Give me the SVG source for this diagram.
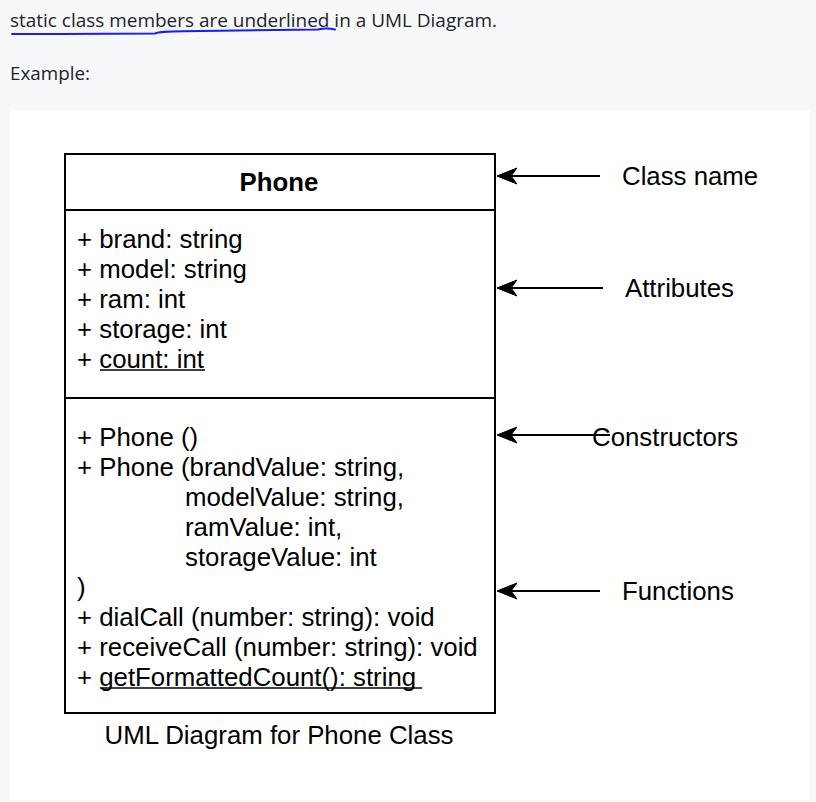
<svg xmlns="http://www.w3.org/2000/svg" width="816" height="802" viewBox="0 0 816 802">
<defs>
<style>
.page{font-family:"Open Sans","Lato","Noto Sans",sans-serif;font-size:18px;fill:#1f2329}
.t{font-family:"Liberation Sans",Arial,sans-serif;font-size:25.8px;fill:#000}
.b{font-weight:bold;text-anchor:middle}
.box{fill:#fff;stroke:#000;stroke-width:2}
.sep{stroke:#000;stroke-width:2}
.arr{stroke:#000;stroke-width:2;fill:none;marker-end:url(#ah)}
.ul{stroke:#000;stroke-width:1.5}
</style>
<marker id="ah" markerWidth="20" markerHeight="18" viewBox="0 0 20 18" refX="19" refY="9" orient="auto" markerUnits="userSpaceOnUse">
<path d="M20,9 L0,1 L6,9 L0,17 Z" fill="#000" stroke="#000" stroke-width="1" stroke-linejoin="round"/>
</marker>
</defs>
<rect x="0" y="0" width="816" height="802" fill="#f7f8fa"/>
<g id="intro">
<text class="page" x="10" y="27" textLength="487" lengthAdjust="spacingAndGlyphs">static class members are underlined in a UML Diagram.</text>
<path d="M12,34 C60,34 120,34 155,33.5 C160,31 170,31.5 200,31 C250,30.5 300,30 318,29.5 C325,28 330,28.5 335,29.5" stroke="#1a1aff" stroke-width="2" fill="none" stroke-linecap="round"/>
<text class="page" x="10" y="80" textLength="80" lengthAdjust="spacingAndGlyphs">Example:</text>
</g>
<rect x="10" y="110" width="800" height="690" fill="#fff"/>
<g id="phone-class">
<rect class="box" x="65" y="154" width="430" height="559"/>
<line class="sep" x1="65" y1="210" x2="495" y2="210"/>
<line class="sep" x1="65" y1="398" x2="495" y2="398"/>
<text class="t b" x="279" y="191">Phone</text>
<text class="t" x="77" y="248">+ brand: string</text>
<text class="t" x="77" y="278">+ model: string</text>
<text class="t" x="77" y="308">+ ram: int</text>
<text class="t" x="77" y="338">+ storage: int</text>
<text class="t" x="77" y="368">+ count: int</text>
<line class="ul" x1="100" y1="370" x2="205" y2="370"/>
<text class="t" x="77" y="446">+ Phone ()</text>
<text class="t" x="77" y="476">+ Phone (brandValue: string,</text>
<text class="t" x="185" y="506">modelValue: string,</text>
<text class="t" x="185" y="536">ramValue: int,</text>
<text class="t" x="185" y="566">storageValue: int</text>
<text class="t" x="77" y="596">)</text>
<text class="t" x="77" y="626">+ dialCall (number: string): void</text>
<text class="t" x="77" y="656">+ receiveCall (number: string): void</text>
<text class="t" x="77" y="686">+ getFormattedCount(): string</text>
<line class="ul" x1="100" y1="688" x2="422" y2="688"/>
</g>
<g id="caption">
<text class="t" x="279" y="744" text-anchor="middle">UML Diagram for Phone Class</text>
</g>
<g id="label-classname"><text class="t" x="622" y="185">Class name</text></g>
<g id="label-attributes"><text class="t" x="625" y="297">Attributes</text></g>
<g id="label-constructors"><text class="t" x="592" y="446">Constructors</text></g>
<g id="label-functions"><text class="t" x="622" y="600">Functions</text></g>
<g id="connectors">
<line class="arr" x1="600" y1="176" x2="498" y2="176"/>
<line class="arr" x1="603" y1="288" x2="498" y2="288"/>
<line class="arr" x1="610" y1="435" x2="498" y2="435"/>
<line class="arr" x1="600" y1="591" x2="498" y2="591"/>
</g>
</svg>
